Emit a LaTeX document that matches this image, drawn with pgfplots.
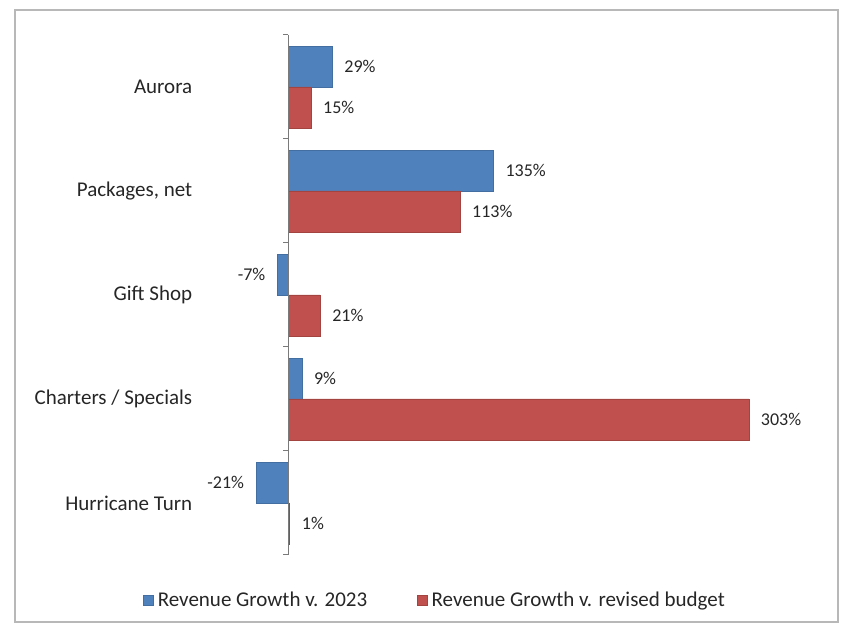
\documentclass[border=0pt]{standalone}
\usepackage{pgfplots}
\pgfplotsset{compat=1.18}
\usepackage{fontspec}
\setmainfont{Carlito}
\definecolor{xlblue}{HTML}{4F81BD}
\definecolor{xlred}{HTML}{C0504D}
\definecolor{axgray}{HTML}{7A7A7A}
\begin{document}
\begin{tikzpicture}
\path[use as bounding box] (0pt,0pt) rectangle (846pt,629pt);
\draw[color=black!28, line width=1.2pt] (15pt,7pt) rectangle (838pt,619pt);
\begin{axis}[
  at={(200pt,74pt)}, anchor=south west,
  scale only axis,
  width=605pt, height=520pt,
  xmin=-58, xmax=340,
  ymin=-0.5, ymax=4.5,
  xbar,
  bar width=0.394,
  axis line style={draw=none},
  xtick=\empty,
  ytick={0,1,2,3,4},
  yticklabels={Hurricane Turn,Charters / Specials,Gift Shop,{Packages, net},Aurora},
  ytick style={draw=none},
  yticklabel style={font=\fontsize{21}{24}\selectfont, text=black!85},
  clip=false,
  /pgf/number format/assume math mode=true,
  nodes near coords={\pgfmathprintnumber{\pgfplotspointmeta}\%},
  nodes near coords align=horizontal,
  every node near coord/.append style={font=\fontsize{18}{20}\selectfont, text=black!85, inner xsep=12pt},
  legend columns=2,
  legend style={at={(0.387,-0.0865)}, anchor=center, draw=none, fill=none,
    font=\fontsize{21}{24}\selectfont, text=black!85,
    /tikz/every odd column/.append style={column sep=4pt},
    /tikz/every even column/.append style={column sep=50pt},
    inner sep=0pt, nodes={inner sep=0pt}},
  legend image code/.code={\fill[#1] (0pt,-5pt) rectangle (10pt,5pt);},
]
\addplot[fill=xlblue, draw=xlblue!85!black, bar shift=0.197]
  coordinates {(29,4) (135,3) (-7,2) (9,1) (-21,0)};
\addlegendentry{Revenue Growth v. 2023}
\addplot[fill=xlred, draw=xlred!85!black, bar shift=-0.197]
  coordinates {(15,4) (113,3) (21,2) (303,1) (1,0)};
\addlegendentry{Revenue Growth v. revised budget}
\draw[axgray, line width=1pt] (axis cs:0,-0.5) -- (axis cs:0,4.5);
\pgfplotsinvokeforeach{-0.5,0.5,1.5,2.5,3.5,4.5}{
  \draw[axgray, line width=1pt] (axis cs:0,#1) -- ++(-5pt,0pt);
}
\end{axis}
\end{tikzpicture}
\end{document}
